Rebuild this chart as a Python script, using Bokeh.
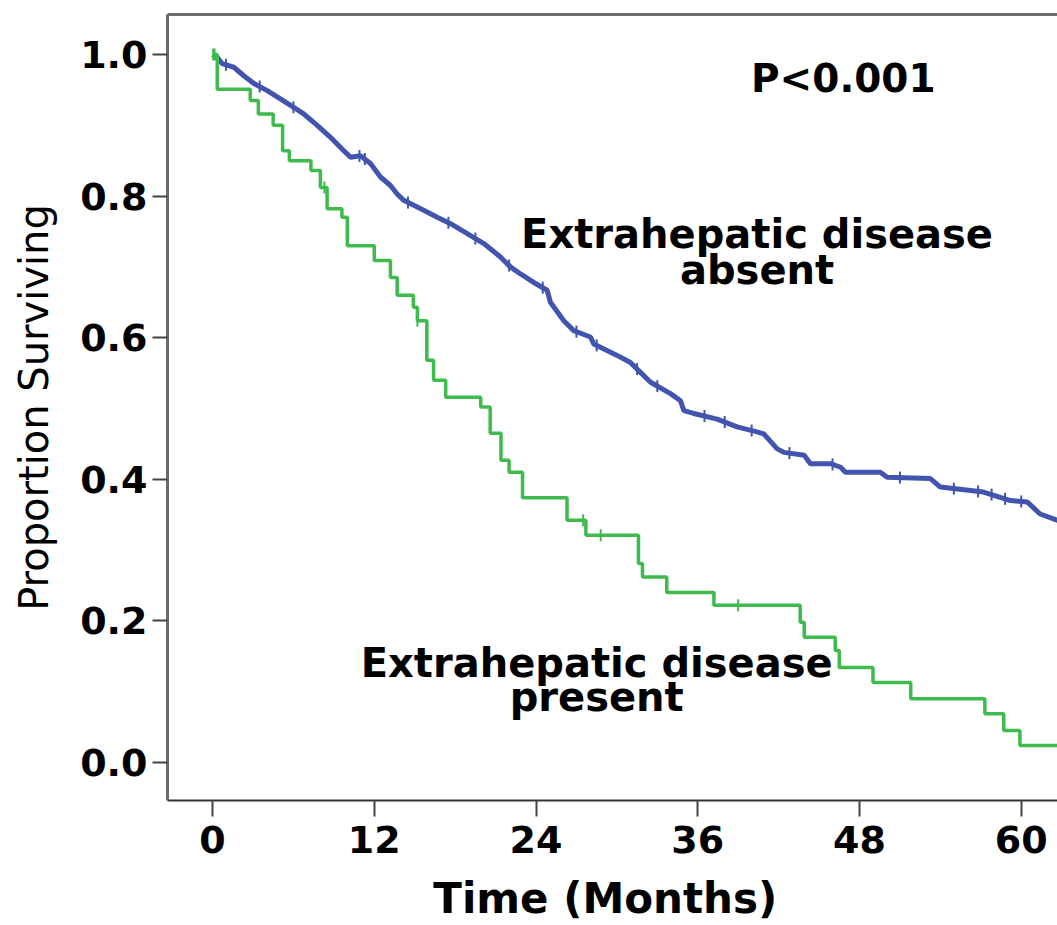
import math
from bokeh.plotting import figure
from bokeh.models import Range1d, LinearAxis, FixedTicker, PrintfTickFormatter
from bokeh.core.properties import value
from bokeh.embed import file_html
from bokeh.resources import INLINE

# ---------------- data ----------------
# Extrahepatic disease absent (blue): time in months, proportion surviving
absent_t = [0.0, 0.35, 0.72, 1.58, 2.32, 3.07, 4.06, 4.8, 5.79, 6.77, 7.77, 8.75,
            9.74, 10.24, 10.98, 11.72, 12.46, 13.2, 13.7, 14.19, 15.67, 16.67,
            17.66, 18.9, 20.13, 21.36, 22.1, 22.85, 23.83, 24.83, 25.07, 26.06,
            26.8, 28.04, 28.29, 30.02, 31.0, 31.75, 32.5, 33.98, 34.72, 34.97,
            35.7, 37.44, 38.92, 40.4, 40.9, 41.9, 42.4, 43.9, 44.36, 45.85, 46.6,
            46.96, 49.55, 50.05, 53.26, 54.0, 57.2, 59.2, 60.44, 61.4, 62.7, 63.5]
absent_s = [1.0, 0.996, 0.987, 0.982, 0.970, 0.959, 0.949, 0.940, 0.928, 0.916,
            0.900, 0.883, 0.864, 0.855, 0.857, 0.846, 0.827, 0.815, 0.803, 0.794,
            0.780, 0.770, 0.761, 0.747, 0.733, 0.714, 0.700, 0.690, 0.678, 0.667,
            0.650, 0.624, 0.610, 0.601, 0.591, 0.575, 0.565, 0.551, 0.537, 0.521,
            0.511, 0.497, 0.493, 0.485, 0.474, 0.467, 0.464, 0.443, 0.438, 0.434,
            0.422, 0.422, 0.417, 0.410, 0.410, 0.403, 0.401, 0.389, 0.382, 0.370,
            0.368, 0.351, 0.342, 0.338]
absent_censored_t = [1.0, 3.5, 6.0, 10.9, 11.3, 14.5, 17.5, 19.5, 22.0, 24.5,
                     27.0, 28.5, 31.5, 33.0, 36.5, 38.0, 40.0, 42.8, 46.0, 51.0,
                     55.0, 56.8, 57.8, 58.8, 60.0]

# Extrahepatic disease present (green): step function
present_t = [0.0, 0.35, 2.8, 3.4, 4.5, 5.2, 5.7, 7.3, 8.0, 8.5, 9.6, 10.0, 12.0,
             13.2, 13.7, 14.9, 15.2, 15.9, 16.4, 17.3, 19.9, 20.6, 21.4, 22.0,
             23.0, 26.3, 27.7, 31.6, 31.9, 33.7, 37.2, 43.6, 43.9, 46.2, 46.5,
             49.0, 51.8, 57.3, 58.7, 59.9, 63.5]
present_s = [1.0, 0.951, 0.935, 0.916, 0.900, 0.864, 0.850, 0.836, 0.812, 0.782,
             0.770, 0.730, 0.709, 0.685, 0.660, 0.643, 0.624, 0.568, 0.540, 0.516,
             0.502, 0.465, 0.427, 0.410, 0.374, 0.342, 0.321, 0.281, 0.262, 0.240,
             0.222, 0.198, 0.177, 0.158, 0.134, 0.113, 0.090, 0.069, 0.045, 0.024,
             0.024]
present_censored_t = [0.05, 0.15, 8.3, 15.2, 27.5, 28.8, 39.0]

x_ticks = [0, 12, 24, 36, 48, 60]
y_ticks = [0.0, 0.2, 0.4, 0.6, 0.8, 1.0]

p_value_text = "P<0.001"
label_absent = ["Extrahepatic disease", "absent"]
label_present = ["Extrahepatic disease", "present"]

# ---------------- helpers ----------------
def step_value(ts, ss, t):
    v = ss[0]
    for ti, si in zip(ts, ss):
        if ti <= t:
            v = si
        else:
            break
    return v

def line_value(ts, ss, t):
    for i in range(len(ts) - 1):
        if ts[i] <= t <= ts[i + 1]:
            if ts[i + 1] == ts[i]:
                return ss[i + 1]
            f = (t - ts[i]) / (ts[i + 1] - ts[i])
            return ss[i] + f * (ss[i + 1] - ss[i])
    return ss[-1]

BLUE = "#4254AE"
GREEN = "#3FBA4C"
FONT = value("DejaVu Sans")

# ---------------- figure ----------------
p = figure(width=1057, height=925,
           x_range=Range1d(-3.34, 62.69), y_range=Range1d(-0.0537, 1.0565),
           output_backend="svg", toolbar_location=None,
           min_border_left=167, min_border_right=0,
           min_border_top=14, min_border_bottom=125)
p.outline_line_color = None
p.grid.visible = False
p.background_fill_color = "white"
p.border_fill_color = "white"

# x axis
xa = p.xaxis[0]
xa.ticker = FixedTicker(ticks=x_ticks)
xa.major_label_text_font = "DejaVu Sans"
xa.major_label_text_font_style = "bold"
xa.major_label_text_font_size = "38px"
xa.major_label_text_color = "black"
xa.major_label_standoff = 9
xa.major_tick_out = 16
xa.major_tick_in = 0
xa.minor_tick_out = 0
xa.minor_tick_in = 0
xa.major_tick_line_color = "#444444"
xa.major_tick_line_width = 2
xa.axis_line_color = "#333333"
xa.axis_line_width = 2
xa.axis_label = "Time  (Months)"
xa.axis_label_text_font = "DejaVu Sans"
xa.axis_label_text_font_style = "bold"
xa.axis_label_text_font_size = "42px"
xa.axis_label_text_color = "black"
xa.axis_label_standoff = 18

# y axis
ya = p.yaxis[0]
ya.ticker = FixedTicker(ticks=y_ticks)
ya.formatter = PrintfTickFormatter(format="%.1f")
ya.major_label_text_font = "DejaVu Sans"
ya.major_label_text_font_style = "bold"
ya.major_label_text_font_size = "38px"
ya.major_label_text_color = "black"
ya.major_label_standoff = 5
ya.major_tick_out = 15
ya.major_tick_in = 0
ya.minor_tick_out = 0
ya.minor_tick_in = 0
ya.major_tick_line_color = "#444444"
ya.major_tick_line_width = 2
ya.axis_line_color = "#6a6a6a"
ya.axis_line_width = 3
ya.axis_label = "Proportion Surviving"
ya.axis_label_text_font = "DejaVu Sans"
ya.axis_label_text_font_style = "normal"
ya.axis_label_text_font_size = "40px"
ya.axis_label_text_color = "black"
ya.axis_label_standoff = 20

# top frame line (plot is cut at the right, no right border)
top = LinearAxis(ticker=FixedTicker(ticks=[]), major_tick_out=0, major_tick_in=0,
                 minor_tick_out=0, minor_tick_in=0, major_label_text_font_size="0px",
                 major_label_standoff=0, axis_line_color="#6a6a6a", axis_line_width=3)
p.add_layout(top, "above")

# curves
p.line(absent_t, absent_s, line_color=BLUE, line_width=5)
p.step(present_t, present_s, mode="after", line_color=GREEN, line_width=3.5)

# censor marks
acy = [line_value(absent_t, absent_s, t) for t in absent_censored_t]
p.scatter(absent_censored_t, acy, marker="dash", angle=math.pi / 2, size=12,
          line_color=BLUE, line_width=2)
pcy = [step_value(present_t, present_s, t) for t in present_censored_t]
p.scatter(present_censored_t, pcy, marker="dash", angle=math.pi / 2, size=12,
          line_color=GREEN, line_width=2)

# annotations (positions in data units)
p.text(x=[46.8], y=[0.966], text=[p_value_text], text_font=FONT,
       text_font_style="bold", text_font_size="39px", text_align="center",
       text_baseline="alphabetic", text_color="black")
p.text(x=[40.4, 40.4], y=[0.747, 0.695], text=label_absent, text_font=FONT,
       text_font_style="bold", text_font_size="40px", text_align="center",
       text_baseline="alphabetic", text_color="black")
p.text(x=[28.5, 28.5], y=[0.140, 0.092], text=label_present, text_font=FONT,
       text_font_style="bold", text_font_size="40px", text_align="center",
       text_baseline="alphabetic", text_color="black")

open("out.html", "w").write(file_html(p, INLINE))
